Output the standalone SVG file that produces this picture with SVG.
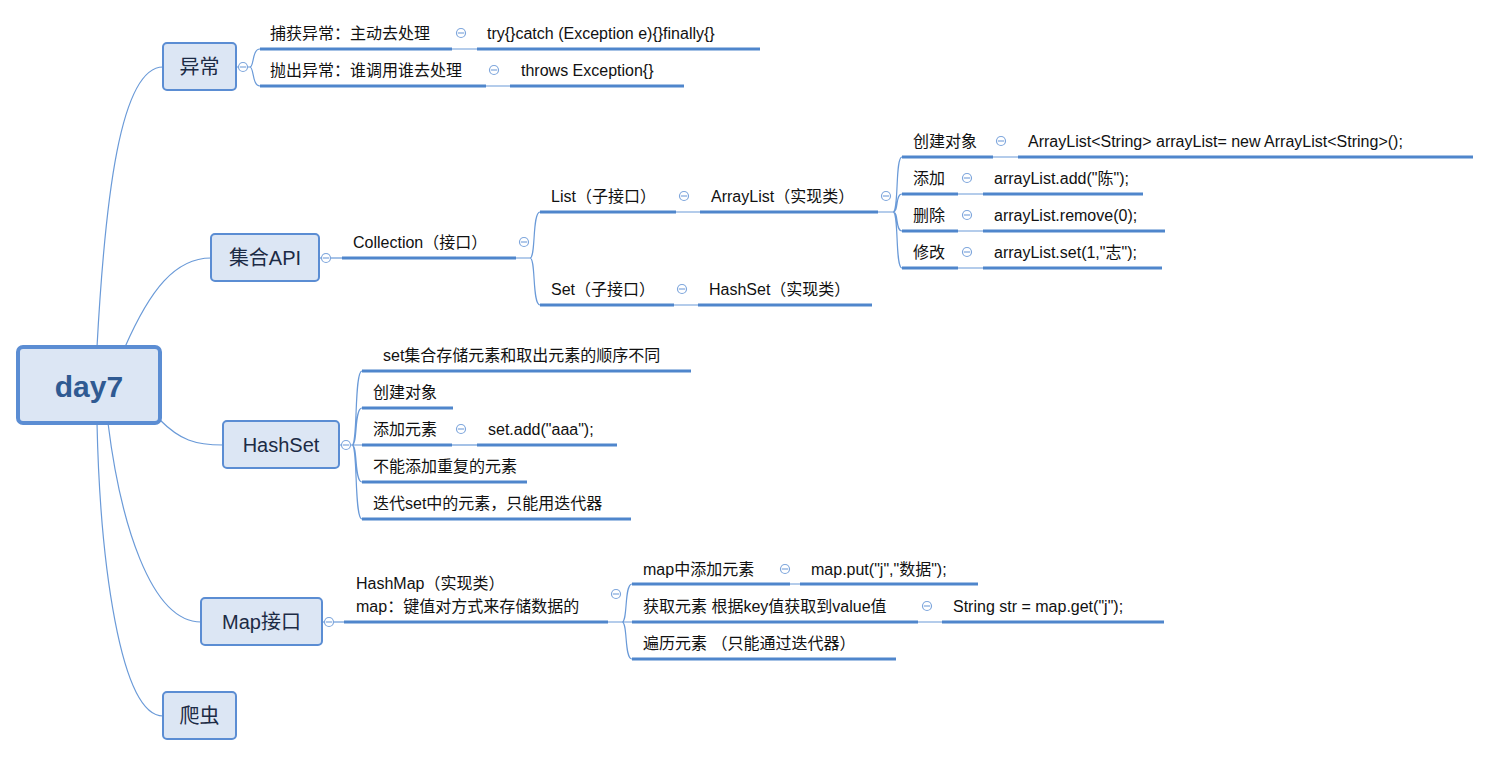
<svg xmlns="http://www.w3.org/2000/svg" width="1491" height="757" viewBox="0 0 1491 757">
<style>
.box{fill:#dce6f4;stroke:#5b8dd3;stroke-width:2}
.root{fill:#dce6f4;stroke:#5b8dd3;stroke-width:4}
.bt{font-family:"Liberation Sans","Noto Sans CJK SC",sans-serif;font-size:20px;fill:#1c2b45;text-anchor:middle;dominant-baseline:central}
.t{font-family:"Liberation Sans","Noto Sans CJK SC",sans-serif;font-size:16px;fill:#111;dominant-baseline:central}
.ul{stroke:#4f86cc;stroke-width:3;fill:none}
.ln{stroke:#6a9ad8;stroke-width:1.2;fill:none}
.cc{fill:#fff;stroke:#7ea6dc;stroke-width:1.2}
.cm{stroke:#7ea6dc;stroke-width:1.2}
</style>
<g id="connectors">
<path class="ln" d="M97,347 C105,200 120,67 163,67"/>
<path class="ln" d="M125,347 C150,290 175,258 211,258"/>
<path class="ln" d="M160,420 C180,440 195,445 223,445"/>
<path class="ln" d="M108,423 C120,520 150,622 201,622"/>
<path class="ln" d="M97,423 C100,560 120,716 163,716"/>
<path class="ln" d="M236,67 H250 M250,67 C254,67 252,49 260,49 M250,67 C254,67 252,86 260,86"/>
<path class="ln" d="M452,49 H477 M486,86 H510"/>
<path class="ln" d="M319,258 H342"/>
<path class="ln" d="M516,258 H530 C536,258 532,212 540,212 M530,258 C536,258 532,305 540,305"/>
<path class="ln" d="M676,212 H700 M674,305 H698"/>
<path class="ln" d="M878,212 H893 C899,212 895,157 902,157 M893,212 C899,212 895,194 902,194 M893,212 C899,212 895,231 902,231 M893,212 C899,212 895,268 902,268"/>
<path class="ln" d="M993,157 H1018 M958,194 H983 M958,231 H983 M958,268 H983"/>
<path class="ln" d="M339,445 H352 C358,445 354,371 362,371 M352,445 C358,445 354,408 362,408 M352,445 C358,445 354,482 362,482 M352,445 C358,445 354,519 362,519 M352,445 H362"/>
<path class="ln" d="M452,445 H477"/>
<path class="ln" d="M322,622 H344"/>
<path class="ln" d="M608,622 H622 C628,622 624,584 632,584 M622,622 H632 M622,622 C628,622 624,659 632,659"/>
<path class="ln" d="M790,584 H800 M918,622 H942"/>
<g class="ul">
<path d="M260,49 H452 M477,49 H760 M260,86 H486 M510,86 H684"/>
<path d="M342,258 H516 M540,212 H676 M700,212 H878 M540,305 H674 M698,305 H872"/>
<path d="M902,157 H993 M1018,157 H1473 M902,194 H958 M983,194 H1143 M902,231 H958 M983,231 H1165 M902,268 H958 M983,268 H1162"/>
<path d="M362,371 H691 M362,408 H453 M362,445 H452 M477,445 H617 M362,482 H527 M362,519 H631"/>
<path d="M344,622 H608 M632,584 H790 M800,584 H978 M632,622 H918 M942,622 H1164 M632,659 H896"/>
</g>
<g>
<circle class="cc" cx="243" cy="67" r="4.5"/><path class="cm" d="M240,67H246"/>
<circle class="cc" cx="461" cy="33" r="4.5"/><path class="cm" d="M458,33H464"/>
<circle class="cc" cx="494" cy="70" r="4.5"/><path class="cm" d="M491,70H497"/>
<circle class="cc" cx="326" cy="258" r="4.5"/><path class="cm" d="M323,258H329"/>
<circle class="cc" cx="524" cy="242" r="4.5"/><path class="cm" d="M521,242H527"/>
<circle class="cc" cx="684" cy="196" r="4.5"/><path class="cm" d="M681,196H687"/>
<circle class="cc" cx="886" cy="196" r="4.5"/><path class="cm" d="M883,196H889"/>
<circle class="cc" cx="682" cy="289" r="4.5"/><path class="cm" d="M679,289H685"/>
<circle class="cc" cx="1001" cy="141" r="4.5"/><path class="cm" d="M998,141H1004"/>
<circle class="cc" cx="967" cy="178" r="4.5"/><path class="cm" d="M964,178H970"/>
<circle class="cc" cx="967" cy="215" r="4.5"/><path class="cm" d="M964,215H970"/>
<circle class="cc" cx="967" cy="252" r="4.5"/><path class="cm" d="M964,252H970"/>
<circle class="cc" cx="346" cy="445" r="4.5"/><path class="cm" d="M343,445H349"/>
<circle class="cc" cx="461" cy="429" r="4.5"/><path class="cm" d="M458,429H464"/>
<circle class="cc" cx="329" cy="622" r="4.5"/><path class="cm" d="M326,622H332"/>
<circle class="cc" cx="616" cy="594" r="4.5"/><path class="cm" d="M613,594H619"/>
<circle class="cc" cx="785" cy="569" r="4.5"/><path class="cm" d="M782,569H788"/>
<circle class="cc" cx="927" cy="606" r="4.5"/><path class="cm" d="M924,606H930"/>
</g>
</g>
<g id="root"><rect class="root" x="18" y="347" width="142" height="76" rx="5"/><text x="89" y="386" style="font-family:'Liberation Sans','Noto Sans CJK SC',sans-serif;font-size:30px;font-weight:bold;fill:#2f5a92;text-anchor:middle;dominant-baseline:central">day7</text></g>
<g id="n-yichang"><rect class="box" x="163" y="43" width="73" height="47" rx="4"/><text class="bt" x="199.5" y="67">异常</text></g>
<g id="n-jihe"><rect class="box" x="211" y="234" width="108" height="47" rx="4"/><text class="bt" x="265" y="258">集合API</text></g>
<g id="n-hashset"><rect class="box" x="223" y="421" width="116" height="47" rx="4"/><text class="bt" x="281" y="445">HashSet</text></g>
<g id="n-map"><rect class="box" x="201" y="598" width="121" height="47" rx="4"/><text class="bt" x="261.5" y="622">Map接口</text></g>
<g id="n-pachong"><rect class="box" x="163" y="692" width="73" height="47" rx="4"/><text class="bt" x="199.5" y="716">爬虫</text></g>
<g id="n-texts">
<text class="t" x="270" y="33">捕获异常：主动去处理</text>
<text class="t" x="487" y="33">try{}catch (Exception e){}finally{}</text>
<text class="t" x="270" y="70">抛出异常：谁调用谁去处理</text>
<text class="t" x="521" y="70">throws Exception{}</text>
<text class="t" x="353" y="242">Collection（接口）</text>
<text class="t" x="551" y="196">List（子接口）</text>
<text class="t" x="711" y="196">ArrayList（实现类）</text>
<text class="t" x="551" y="289">Set（子接口）</text>
<text class="t" x="709" y="289">HashSet（实现类）</text>
<text class="t" x="913" y="141">创建对象</text>
<text class="t" x="1028" y="141">ArrayList&lt;String&gt; arrayList= new ArrayList&lt;String&gt;();</text>
<text class="t" x="913" y="178">添加</text>
<text class="t" x="994" y="178">arrayList.add("陈");</text>
<text class="t" x="913" y="215">删除</text>
<text class="t" x="994" y="215">arrayList.remove(0);</text>
<text class="t" x="913" y="252">修改</text>
<text class="t" x="994" y="252">arrayList.set(1,"志");</text>
<text class="t" x="383" y="355">set集合存储元素和取出元素的顺序不同</text>
<text class="t" x="373" y="392">创建对象</text>
<text class="t" x="373" y="429">添加元素</text>
<text class="t" x="488" y="429">set.add("aaa");</text>
<text class="t" x="373" y="466">不能添加重复的元素</text>
<text class="t" x="373" y="503">迭代set中的元素，只能用迭代器</text>
<text class="t" x="356" y="583">HashMap（实现类）</text>
<text class="t" x="356" y="606">map：键值对方式来存储数据的</text>
<text class="t" x="643" y="569">map中添加元素</text>
<text class="t" x="811" y="569">map.put("j","数据");</text>
<text class="t" x="643" y="606">获取元素 根据key值获取到value值</text>
<text class="t" x="953" y="606">String str = map.get("j");</text>
<text class="t" x="643" y="643">遍历元素 （只能通过迭代器）</text>
</g>
</svg>
